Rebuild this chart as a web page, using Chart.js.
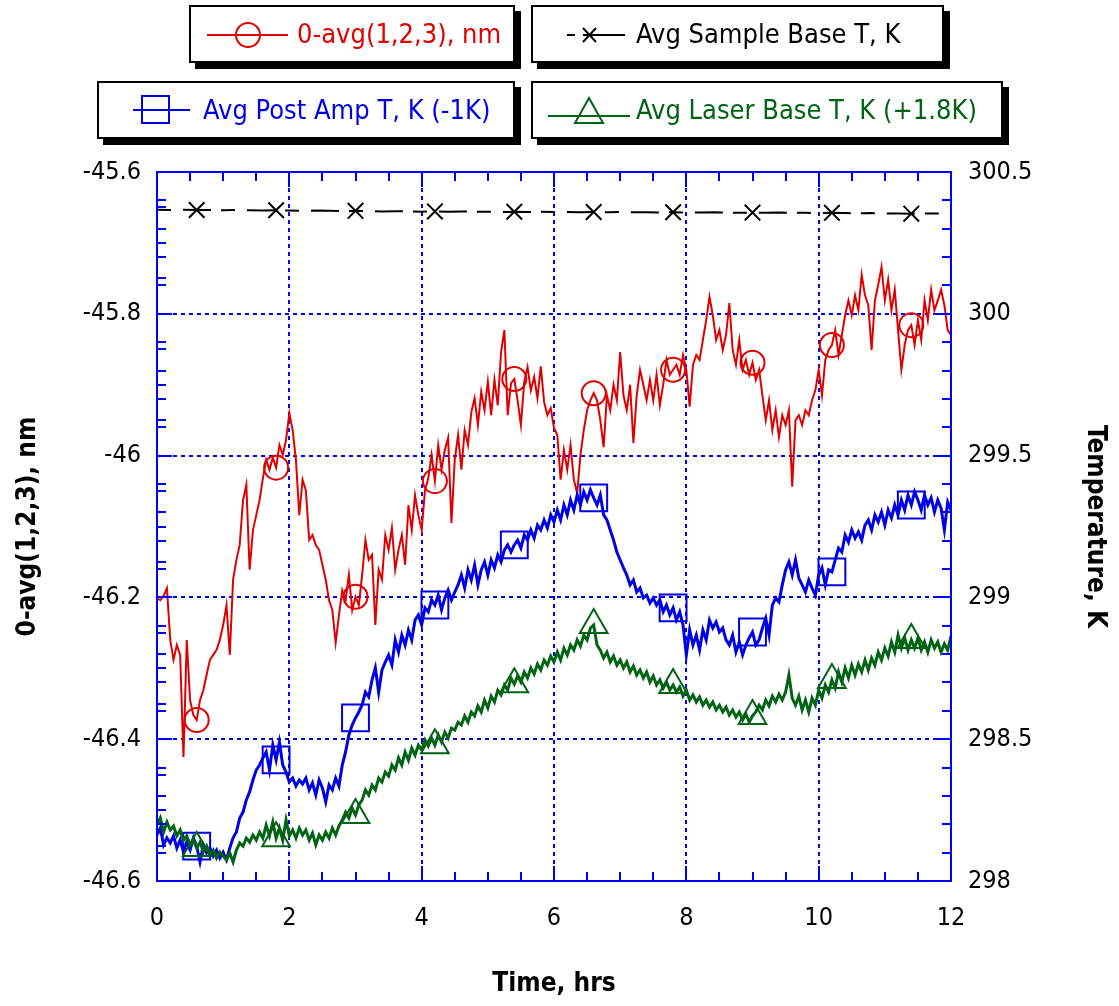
<!DOCTYPE html>
<html>
<head>
<meta charset="utf-8">
<script src="https://cdn.jsdelivr.net/npm/chart.js@4.4.1/dist/chart.umd.min.js"></script>
<style>
  html, body { margin: 0; padding: 0; background: #fff; }
  #wrap { position: relative; width: 1119px; height: 1006px; overflow: hidden; }
  canvas { position: absolute; left: 0; top: 0; }
  .lg { position: absolute; box-sizing: border-box; height: 58px; background: #fff;
        border: 2px solid #000; box-shadow: 6px 6px 0 #000; }
  .lg svg { position: absolute; left: 0; top: 0; }
  .lg span { position: absolute; top: 0; line-height: 54px; white-space: nowrap;
             font-family: 'Liberation Sans Narrow', 'DejaVu Sans Condensed', 'Arial Narrow', sans-serif;
             font-size: 27px; }
</style>
</head>
<body>
<div id="wrap">
  <canvas id="c" width="1119" height="1006"></canvas>
  <div class="lg" style="left:189px;top:5px;width:326px;">
    <svg width="322" height="54"><line x1="16" y1="28" x2="97" y2="28" stroke="#e00000" stroke-width="2"/><circle cx="57" cy="28" r="12" fill="none" stroke="#e00000" stroke-width="2"/></svg>
    <span style="left:106px;color:#e00000;">0-avg(1,2,3), nm</span>
  </div>
  <div class="lg" style="left:531px;top:5px;width:413px;">
    <svg width="409" height="54"><line x1="34" y1="28" x2="42" y2="28" stroke="#000" stroke-width="2"/><line x1="50" y1="28" x2="92" y2="28" stroke="#000" stroke-width="2"/><line x1="50" y1="21" x2="63" y2="35" stroke="#000" stroke-width="2"/><line x1="63" y1="21" x2="50" y2="35" stroke="#000" stroke-width="2"/></svg>
    <span style="left:103px;color:#000;">Avg Sample Base T, K</span>
  </div>
  <div class="lg" style="left:97px;top:81px;width:418px;">
    <svg width="414" height="54"><line x1="34" y1="27" x2="91" y2="27" stroke="#0000e6" stroke-width="2"/><rect x="43" y="13" width="27" height="27" fill="none" stroke="#0000e6" stroke-width="2"/></svg>
    <span style="left:104px;color:#0000e6;">Avg Post Amp T, K (-1K)</span>
  </div>
  <div class="lg" style="left:531px;top:81px;width:472px;">
    <svg width="468" height="54"><line x1="15" y1="33" x2="97" y2="33" stroke="#006414" stroke-width="2"/><polygon points="56,15 70,40 42,40" fill="none" stroke="#006414" stroke-width="2"/></svg>
    <span style="left:103px;color:#006414;">Avg Laser Base T, K (+1.8K)</span>
  </div>
</div>
<script>
// ---------------- data ----------------
// Red: 0-avg(1,2,3), nm (left axis), sampled every 0.05 h from 0 to 12 h
const red = [
  -46.201, -46.204, -46.198, -46.187, -46.260, -46.288, -46.267, -46.281, -46.425, -46.260,
  -46.345, -46.366, -46.373, -46.345, -46.331, -46.309, -46.288, -46.281, -46.274, -46.260,
  -46.239, -46.211, -46.281, -46.175, -46.147, -46.126, -46.063, -46.041, -46.161, -46.105,
  -46.084, -46.063, -46.032, -46.006, -46.020, -46.003, -46.017, -45.985, -45.999, -45.978,
  -45.940, -45.964, -46.006, -46.084, -46.034, -46.049, -46.119, -46.112, -46.126, -46.133,
  -46.154, -46.175, -46.204, -46.218, -46.264, -46.225, -46.190, -46.204, -46.168, -46.218,
  -46.199, -46.211, -46.168, -46.119, -46.147, -46.140, -46.239, -46.161, -46.175, -46.112,
  -46.133, -46.102, -46.161, -46.133, -46.112, -46.154, -46.070, -46.105, -46.056, -46.084,
  -46.105, -46.049, -46.032, -45.999, -46.036, -45.985, -46.020, -45.992, -45.975, -46.095,
  -46.006, -45.971, -46.020, -45.964, -45.985, -45.939, -45.919, -45.957, -45.910, -45.936,
  -45.896, -45.943, -45.893, -45.929, -45.854, -45.823, -45.943, -45.898, -45.892, -45.922,
  -45.957, -45.896, -45.875, -45.908, -45.889, -45.919, -45.874, -45.924, -45.943, -45.933,
  -45.961, -45.971, -46.034, -45.992, -46.020, -45.985, -46.034, -46.053, -45.999, -45.964,
  -45.936, -45.922, -45.912, -45.922, -45.950, -45.988, -45.915, -45.936, -45.900, -45.922,
  -45.854, -45.915, -45.936, -45.900, -45.982, -45.915, -45.879, -45.900, -45.922, -45.893,
  -45.922, -45.886, -45.929, -45.900, -45.865, -45.886, -45.879, -45.872, -45.886, -45.858,
  -45.879, -45.931, -45.872, -45.858, -45.865, -45.837, -45.809, -45.776, -45.802, -45.837,
  -45.823, -45.851, -45.830, -45.785, -45.851, -45.872, -45.837, -45.879, -45.865, -45.886,
  -45.869, -45.893, -45.879, -45.915, -45.950, -45.922, -45.964, -45.936, -45.974, -45.943,
  -45.957, -45.936, -46.044, -45.950, -45.943, -45.957, -45.936, -45.943, -45.922, -45.908,
  -45.879, -45.915, -45.865, -45.851, -45.844, -45.823, -45.858, -45.830, -45.802, -45.781,
  -45.802, -45.774, -45.795, -45.745, -45.774, -45.788, -45.851, -45.781, -45.759, -45.734,
  -45.781, -45.752, -45.795, -45.766, -45.823, -45.879, -45.844, -45.823, -45.816, -45.844,
  -45.809, -45.837, -45.781, -45.809, -45.766, -45.795, -45.781, -45.766, -45.788, -45.823, -45.830
];
// Blue: Avg Post Amp T, K (-1K) (right axis)
const blue = [
  298.162, 298.187, 298.127, 298.152, 298.134, 298.159, 298.116, 298.145, 298.102, 298.138,
  298.109, 298.152, 298.123, 298.067, 298.127, 298.099, 298.116, 298.088, 298.109, 298.081,
  298.102, 298.074, 298.116, 298.152, 298.173, 298.222, 298.243, 298.286, 298.314, 298.356,
  298.391, 298.409, 298.434, 298.455, 298.391, 298.480, 298.427, 298.490, 298.409, 298.384,
  298.349, 298.363, 298.335, 298.356, 298.342, 298.363, 298.321, 298.346, 298.303, 298.356,
  298.328, 298.279, 298.339, 298.321, 298.363, 298.335, 298.409, 298.455, 298.515, 298.550,
  298.575, 298.596, 298.621, 298.666, 298.649, 298.709, 298.751, 298.666, 298.744, 298.772,
  298.797, 298.762, 298.850, 298.807, 298.867, 298.832, 298.885, 298.850, 298.920, 298.938,
  298.903, 298.963, 298.949, 298.991, 298.973, 299.008, 298.956, 298.998, 299.026, 298.991,
  299.019, 299.044, 299.079, 299.033, 299.097, 299.061, 299.114, 299.044, 299.097, 299.125,
  299.079, 299.132, 299.104, 299.150, 299.125, 299.167, 299.185, 299.160, 299.185, 299.202,
  299.174, 299.220, 299.202, 299.238, 299.209, 299.255, 299.238, 299.273, 299.245, 299.291,
  299.266, 299.308, 299.273, 299.326, 299.291, 299.343, 299.308, 299.361, 299.326, 299.372,
  299.343, 299.379, 299.351, 299.326, 299.361, 299.291, 299.273, 299.238, 299.202, 299.160,
  299.132, 299.104, 299.079, 299.044, 299.061, 299.019, 299.033, 298.998, 299.008, 298.980,
  298.998, 298.973, 298.991, 298.949, 298.973, 298.938, 298.963, 298.920, 298.949, 298.903,
  298.797, 298.885, 298.832, 298.867, 298.815, 298.885, 298.850, 298.920, 298.892, 298.913,
  298.878, 298.892, 298.850, 298.832, 298.867, 298.807, 298.843, 298.797, 298.832, 298.857,
  298.878, 298.832, 298.850, 298.892, 298.927, 298.867, 298.973, 298.998, 298.984, 299.044,
  299.097, 299.125, 299.079, 299.132, 299.068, 299.044, 299.019, 299.061, 299.033, 299.008,
  299.079, 299.104, 299.044, 299.097, 299.090, 299.132, 299.174, 299.160, 299.220, 299.195,
  299.238, 299.209, 299.231, 299.202, 299.255, 299.273, 299.238, 299.291, 299.266, 299.301,
  299.255, 299.308, 299.280, 299.326, 299.291, 299.343, 299.308, 299.361, 299.326, 299.372,
  299.343, 299.308, 299.361, 299.326, 299.351, 299.301, 299.343, 299.315, 299.238, 299.336, 299.308
];
// Green: Avg Laser Base T, K (+1.8K) (right axis)
const green = [
  298.197, 298.222, 298.173, 298.208, 298.180, 298.194, 298.159, 298.180, 298.144, 298.159,
  298.127, 298.144, 298.116, 298.137, 298.102, 298.123, 298.092, 298.109, 298.081, 298.102,
  298.088, 298.074, 298.099, 298.067, 298.109, 298.134, 298.123, 298.151, 298.137, 298.162,
  298.144, 298.173, 298.151, 298.197, 298.159, 298.208, 298.151, 298.187, 298.144, 298.215,
  298.159, 298.180, 298.151, 298.187, 298.162, 298.180, 298.144, 298.169, 298.127, 298.162,
  298.144, 298.173, 298.151, 298.187, 298.162, 298.194, 298.215, 298.243, 298.222, 298.257,
  298.233, 298.268, 298.285, 298.321, 298.303, 298.338, 298.321, 298.363, 298.349, 298.384,
  298.370, 298.409, 298.391, 298.434, 298.409, 298.455, 298.426, 298.469, 298.444, 298.479,
  298.462, 298.497, 298.476, 298.504, 298.479, 298.515, 298.490, 298.525, 298.504, 298.539,
  298.532, 298.560, 298.550, 298.582, 298.560, 298.596, 298.582, 298.617, 298.596, 298.638,
  298.610, 298.652, 298.631, 298.673, 298.656, 298.691, 298.673, 298.716, 298.694, 298.723,
  298.701, 298.737, 298.716, 298.751, 298.730, 298.765, 298.744, 298.779, 298.761, 298.793,
  298.772, 298.807, 298.779, 298.821, 298.797, 298.832, 298.814, 298.850, 298.828, 298.867,
  298.850, 298.892, 298.903, 298.832, 298.814, 298.786, 298.807, 298.772, 298.793, 298.761,
  298.779, 298.751, 298.772, 298.737, 298.758, 298.726, 298.744, 298.716, 298.737, 298.701,
  298.723, 298.691, 298.709, 298.680, 298.701, 298.673, 298.691, 298.666, 298.684, 298.652,
  298.673, 298.638, 298.656, 298.631, 298.649, 298.620, 298.638, 298.613, 298.631, 298.603,
  298.620, 298.596, 298.613, 298.585, 298.603, 298.578, 298.596, 298.567, 298.589, 298.560,
  298.582, 298.596, 298.620, 298.603, 298.638, 298.617, 298.652, 298.631, 298.659, 298.638,
  298.666, 298.726, 298.645, 298.620, 298.652, 298.603, 298.638, 298.596, 298.645, 298.620,
  298.673, 298.645, 298.691, 298.666, 298.709, 298.680, 298.737, 298.701, 298.751, 298.716,
  298.761, 298.726, 298.765, 298.737, 298.779, 298.744, 298.786, 298.761, 298.807, 298.779,
  298.821, 298.793, 298.843, 298.807, 298.867, 298.821, 298.857, 298.814, 298.850, 298.821,
  298.857, 298.814, 298.843, 298.807, 298.850, 298.821, 298.843, 298.807, 298.836, 298.814, 298.864
];
// Black: Avg Sample Base T, K (right axis), sampled every 0.2 h
const black = [
  300.367, 300.366, 300.367, 300.366, 300.366, 300.365, 300.366, 300.365, 300.364, 300.365,
  300.364, 300.363, 300.364, 300.363, 300.362, 300.363, 300.362, 300.361, 300.362, 300.361,
  300.360, 300.361, 300.360, 300.361, 300.360, 300.360, 300.359, 300.360, 300.359, 300.360,
  300.359, 300.359, 300.358, 300.359, 300.358, 300.359, 300.358, 300.358, 300.357, 300.358,
  300.357, 300.357, 300.358, 300.357, 300.356, 300.357, 300.356, 300.357, 300.356, 300.356,
  300.355, 300.356, 300.355, 300.354, 300.355, 300.354, 300.354, 300.353, 300.354, 300.354, 300.353
];
const time = red.map((_, i) => +(i * 0.05).toFixed(2));       // hours
const blackTime = black.map((_, i) => +(i * 0.2).toFixed(2)); // hours
const markerTimes = [0.6, 1.8, 3.0, 4.2, 5.4, 6.6, 7.8, 9.0, 10.2, 11.4];

const xTicks = [0, 2, 4, 6, 8, 10, 12];
const leftTicks = [-46.6, -46.4, -46.2, -46, -45.8, -45.6];
const rightTicks = [298, 298.5, 299, 299.5, 300, 300.5];

// ---------------- chart ----------------
const FONT = "'Liberation Sans Narrow', 'DejaVu Sans Condensed', 'Arial Narrow', sans-serif";
const BLUE = '#0000ff';
const pts = (xs, ys) => ys.map((y, i) => ({ x: xs[i], y }));
const isMarker = t => markerTimes.some(m => Math.abs(m - t) < 1e-6);
const markerRadius = r => ctx => (ctx.raw && isMarker(ctx.raw.x)) ? r : 0;

const frameAndTicks = {
  id: 'frameAndTicks',
  afterDatasetsDraw(chart) {
    const { ctx, chartArea: a, scales } = chart;
    ctx.save();
    ctx.strokeStyle = BLUE;
    ctx.lineWidth = 2;
    ctx.setLineDash([]);
    ctx.beginPath();
    for (let k = 0; k <= 24; k++) {
      const v = k * 0.5;
      const px = Math.round(scales.x.getPixelForValue(v));
      const len = (k % 4 === 0) ? 15 : 9;
      ctx.moveTo(px, a.bottom); ctx.lineTo(px, a.bottom - len);
      ctx.moveTo(px, a.top); ctx.lineTo(px, a.top + len);
    }
    for (let k = 0; k <= 20; k++) {
      const v = -46.6 + k * 0.05;
      const py = Math.round(scales.y.getPixelForValue(v));
      const len = (k % 4 === 0) ? 15 : 9;
      ctx.moveTo(a.left, py); ctx.lineTo(a.left + len, py);
    }
    for (let k = 0; k <= 25; k++) {
      const v = 298 + k * 0.1;
      const py = Math.round(scales.y2.getPixelForValue(v));
      const len = (k % 5 === 0) ? 15 : 9;
      ctx.moveTo(a.right, py); ctx.lineTo(a.right - len, py);
      ctx.moveTo(a.left, py); ctx.lineTo(a.left + 9, py);
    }
    ctx.stroke();
    ctx.strokeRect(a.left, a.top, a.right - a.left, a.bottom - a.top);
    ctx.restore();
  }
};

const tickFont = { family: FONT, size: 25 };
const titleFont = { family: FONT, size: 26, weight: 'bold' };

new Chart(document.getElementById('c'), {
  type: 'line',
  data: {
    datasets: [
      { label: 'Avg Sample Base T, K', data: pts(blackTime, black), yAxisID: 'y2',
        borderColor: '#000', borderWidth: 2, borderDash: [14, 12, 28, 10],
        pointStyle: 'crossRot', pointRadius: markerRadius(11), pointBorderColor: '#000',
        pointBorderWidth: 2, fill: false },
      { label: 'Avg Laser Base T, K (+1.8K)', data: pts(time, green), yAxisID: 'y2',
        borderColor: '#006414', borderWidth: 3,
        pointStyle: 'triangle', pointRadius: markerRadius(16), pointBorderColor: '#006414',
        pointBackgroundColor: 'rgba(0,0,0,0)', pointBorderWidth: 2, fill: false },
      { label: 'Avg Post Amp T, K (-1K)', data: pts(time, blue), yAxisID: 'y2',
        borderColor: '#0000e6', borderWidth: 3,
        pointStyle: 'rect', pointRadius: markerRadius(19), pointBorderColor: '#0000e6',
        pointBackgroundColor: 'rgba(0,0,0,0)', pointBorderWidth: 2, fill: false },
      { label: '0-avg(1,2,3), nm', data: pts(time, red), yAxisID: 'y',
        borderColor: '#e00000', borderWidth: 2,
        pointStyle: 'circle', pointRadius: markerRadius(12), pointBorderColor: '#e00000',
        pointBackgroundColor: 'rgba(0,0,0,0)', pointBorderWidth: 2, fill: false }
    ]
  },
  options: {
    responsive: false,
    animation: false,
    devicePixelRatio: 1,
    layout: { padding: { top: 172, left: 0, right: 0, bottom: 0 } },
    elements: { line: { tension: 0 } },
    plugins: { legend: { display: false }, tooltip: { enabled: false } },
    scales: {
      x: {
        type: 'linear', position: 'bottom', min: 0, max: 12,
        afterBuildTicks: s => { s.ticks = xTicks.map(v => ({ value: v })); },
        afterFit: s => { s.height = 125; },
        grid: { color: BLUE, lineWidth: 2, drawTicks: false },
        border: { display: false, dash: [4, 4] },
        ticks: { color: '#000', font: tickFont, padding: 22, maxRotation: 0, autoSkip: false,
                 callback: v => String(v) },
        title: { display: true, text: 'Time, hrs', color: '#000', font: titleFont,
                 padding: { top: 0, bottom: 6 } }
      },
      y: {
        type: 'linear', position: 'left', min: -46.6, max: -45.6,
        afterBuildTicks: s => { s.ticks = leftTicks.map(v => ({ value: v })); },
        afterFit: s => { s.width = 157; },
        grid: { color: BLUE, lineWidth: 2, drawTicks: false },
        border: { display: false, dash: [4, 4] },
        ticks: { color: '#000', font: tickFont, padding: 16, autoSkip: false,
                 callback: v => String(+v.toFixed(1)) },
        title: { display: true, text: '0-avg(1,2,3), nm', color: '#000', font: titleFont,
                 padding: { top: 13, bottom: 0 } }
      },
      y2: {
        type: 'linear', position: 'right', min: 298, max: 300.5,
        afterBuildTicks: s => { s.ticks = rightTicks.map(v => ({ value: v })); },
        afterFit: s => { s.width = 168; },
        grid: { drawOnChartArea: false, drawTicks: false },
        border: { display: false },
        ticks: { color: '#000', font: tickFont, padding: 17, autoSkip: false,
                 callback: v => String(+v.toFixed(1)) },
        title: { display: true, text: 'Temperature, K', color: '#000', font: titleFont,
                 padding: { top: 9, bottom: 0 } }
      }
    }
  },
  plugins: [frameAndTicks]
});
</script>
</body>
</html>
